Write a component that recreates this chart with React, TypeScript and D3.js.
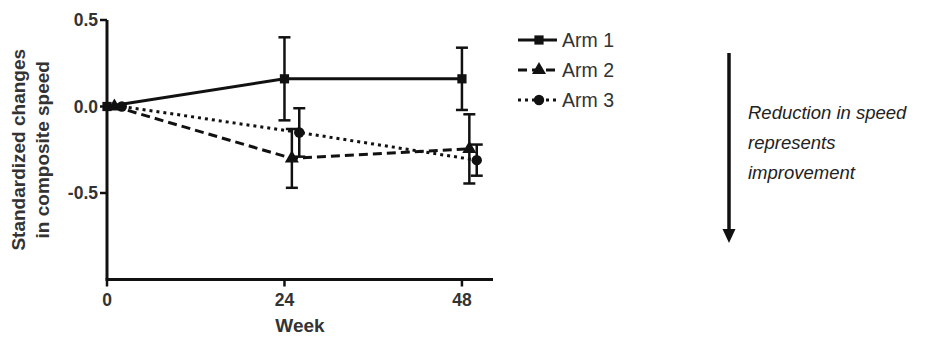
import React, { useRef, useEffect } from "react";
import * as d3 from "d3";

type Arm = {
  name: string;
  weeks: number[];
  mean: number[];
  err: number[];
  dash: string;
  marker: "square" | "triangle" | "circle";
};

// weeks are dodged slightly per arm, like the original plot
const arm1Weeks = [0, 24, 48];
const arm1Mean = [0, 0.16, 0.16];
const arm1Err = [0, 0.24, 0.18];

const arm2Weeks = [1, 25, 49];
const arm2Mean = [0, -0.3, -0.245];
const arm2Err = [0, 0.17, 0.2];

const arm3Weeks = [2, 26, 50];
const arm3Mean = [0, -0.15, -0.31];
const arm3Err = [0, 0.14, 0.09];

const xTicks = [0, 24, 48];
const yTicks = [0.5, 0, -0.5];

const arms: Arm[] = [
  { name: "Arm 1", weeks: arm1Weeks, mean: arm1Mean, err: arm1Err, dash: "none", marker: "square" },
  { name: "Arm 2", weeks: arm2Weeks, mean: arm2Mean, err: arm2Err, dash: "9,5", marker: "triangle" },
  { name: "Arm 3", weeks: arm3Weeks, mean: arm3Mean, err: arm3Err, dash: "3,4", marker: "circle" },
];

const W = 936;
const H = 337;
const INK = "#111";
const FONT = "'Liberation Sans', Arial, sans-serif";

const symbolFor = (m: Arm["marker"]) =>
  m === "square" ? d3.symbolSquare : m === "triangle" ? d3.symbolTriangle : d3.symbolCircle;

const App: React.FC = () => {
  const svgRef = useRef<SVGSVGElement | null>(null);

  useEffect(() => {
    const svg = d3.select(svgRef.current);
    svg.selectAll("*").remove();

    const x = d3.scaleLinear().domain([0, 52.2]).range([107, 493]);
    const y = d3.scaleLinear().domain([-1, 0.5]).range([279.5, 20]);

    // axes
    svg.append("line")
      .attr("x1", x(0)).attr("x2", x(0))
      .attr("y1", y(0.5)).attr("y2", y(-1))
      .attr("stroke", INK).attr("stroke-width", 3);
    svg.append("line")
      .attr("x1", x(0) - 1.5).attr("x2", x(52.2))
      .attr("y1", y(-1)).attr("y2", y(-1))
      .attr("stroke", INK).attr("stroke-width", 3);

    yTicks.forEach((t) => {
      svg.append("line")
        .attr("x1", x(0) - 7).attr("x2", x(0))
        .attr("y1", y(t)).attr("y2", y(t))
        .attr("stroke", INK).attr("stroke-width", 2.5);
      svg.append("text")
        .attr("x", x(0) - 9).attr("y", y(t) + 6)
        .attr("text-anchor", "end")
        .attr("font-family", FONT).attr("font-size", 17.5).attr("font-weight", "bold")
        .attr("fill", "#333")
        .text(d3.format(".1f")(t).replace("−", "-"));
    });

    xTicks.forEach((t) => {
      svg.append("line")
        .attr("x1", x(t)).attr("x2", x(t))
        .attr("y1", y(-1)).attr("y2", y(-1) + 7)
        .attr("stroke", INK).attr("stroke-width", 2.5);
      svg.append("text")
        .attr("x", x(t)).attr("y", 306)
        .attr("text-anchor", "middle")
        .attr("font-family", FONT).attr("font-size", 17.5).attr("font-weight", "bold")
        .attr("fill", "#333")
        .text(String(t));
    });

    svg.append("text")
      .attr("x", (x(0) + x(52.2)) / 2).attr("y", 332)
      .attr("text-anchor", "middle")
      .attr("font-family", FONT).attr("font-size", 19).attr("font-weight", "bold")
      .attr("fill", "#333")
      .text("Week");

    const yl = svg.append("text")
      .attr("transform", `translate(25,${(y(0.5) + y(-1)) / 2}) rotate(-90)`)
      .attr("text-anchor", "middle")
      .attr("font-family", FONT).attr("font-size", 19).attr("font-weight", "bold")
      .attr("fill", "#333");
    yl.append("tspan").attr("x", 0).attr("dy", 0).text("Standardized changes");
    yl.append("tspan").attr("x", 0).attr("dy", 24).text("in composite speed");

    // series
    arms.forEach((a) => {
      const pts = a.weeks.map((w, i) => ({ w, m: a.mean[i], e: a.err[i] }));
      const line = d3.line<{ w: number; m: number }>().x((d) => x(d.w)).y((d) => y(d.m));
      const g = svg.append("g");
      g.append("path")
        .attr("d", line(pts))
        .attr("fill", "none").attr("stroke", INK).attr("stroke-width", 3)
        .attr("stroke-dasharray", a.dash);

      pts.filter((p) => p.e > 0).forEach((p) => {
        const cx = x(p.w);
        g.append("line")
          .attr("x1", cx).attr("x2", cx)
          .attr("y1", y(p.m + p.e)).attr("y2", y(p.m - p.e))
          .attr("stroke", INK).attr("stroke-width", 2.5);
        [p.m + p.e, p.m - p.e].forEach((v) => {
          g.append("line")
            .attr("x1", cx - 6).attr("x2", cx + 6)
            .attr("y1", y(v)).attr("y2", y(v))
            .attr("stroke", INK).attr("stroke-width", 2.5);
        });
      });

      g.selectAll("path.mk")
        .data(pts)
        .enter()
        .append("path")
        .attr("class", "mk")
        .attr("transform", (d) => `translate(${x(d.w)},${y(d.m)})`)
        .attr("d", d3.symbol().type(symbolFor(a.marker)).size(85)())
        .attr("fill", INK);
    });

    // legend
    arms.forEach((a, i) => {
      const ly = 40 + i * 30;
      svg.append("line")
        .attr("x1", 518).attr("x2", 557)
        .attr("y1", ly).attr("y2", ly)
        .attr("stroke", INK).attr("stroke-width", 3)
        .attr("stroke-dasharray", a.dash);
      svg.append("path")
        .attr("transform", `translate(539,${ly})`)
        .attr("d", d3.symbol().type(symbolFor(a.marker)).size(85)())
        .attr("fill", INK);
      svg.append("text")
        .attr("x", 562).attr("y", ly + 7)
        .attr("font-family", FONT).attr("font-size", 19.5)
        .attr("fill", "#333")
        .text(a.name);
    });

    // annotation arrow
    svg.append("line")
      .attr("x1", 729).attr("x2", 729)
      .attr("y1", 53).attr("y2", 232)
      .attr("stroke", INK).attr("stroke-width", 3.5);
    svg.append("path")
      .attr("d", "M722.5,229 L735.5,229 L729,243 Z")
      .attr("fill", INK);

    const note = svg.append("text")
      .attr("font-family", FONT).attr("font-size", 18.5).attr("font-style", "italic")
      .attr("fill", "#222");
    ["Reduction in speed", "represents", "improvement"].forEach((s, i) => {
      note.append("tspan").attr("x", 748).attr("y", 119 + i * 30).text(s);
    });
  }, []);

  return (
    <div style={{ position: "absolute", left: 0, top: 0 }}>
      <svg ref={svgRef} width={W} height={H} style={{ display: "block", background: "#fff" }} />
    </div>
  );
};

export default App;
